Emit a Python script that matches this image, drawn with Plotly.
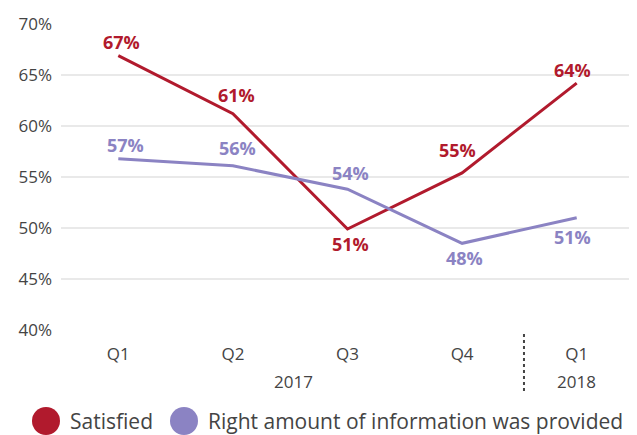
import plotly.graph_objects as go

quarters = ["Q1", "Q2", "Q3", "Q4", "Q1"]
years = ["2017", "2018"]
satisfied = [66.9, 61.2, 49.9, 55.4, 64.2]
satisfied_labels = ["67%", "61%", "51%", "55%", "64%"]
right_info = [56.8, 56.1, 53.8, 48.5, 51.0]
right_info_labels = ["57%", "56%", "54%", "48%", "51%"]
series_names = ["Satisfied", "Right amount of information was provided"]

RED = "#b11a2d"
PURPLE = "#8b83c3"
FONT = "Open Sans"
GREY = "#444444"

# label placement offsets (pixels): (dx, dy) relative to the point, dy positive = up
sat_label_offsets = [(3, 14), (4, 19), (3, -15), (-5, 23), (-4, 13)]
info_label_offsets = [(7, 14), (5, 18), (3, 16), (2, -15), (-4, -19)]

x = list(range(len(quarters)))

PW, PH = 573, 306

fig = go.Figure()
for vals, col, name in [(satisfied, RED, series_names[0]), (right_info, PURPLE, series_names[1])]:
    fig.add_trace(go.Scatter(
        x=x, y=vals, mode="lines", name=name,
        line=dict(color=col, width=3), showlegend=False,
    ))

for vals, labels, offs, col in [(satisfied, satisfied_labels, sat_label_offsets, RED),
                                (right_info, right_info_labels, info_label_offsets, PURPLE)]:
    for xi, v, lbl, (dx, dy) in zip(x, vals, labels, offs):
        fig.add_annotation(x=xi, y=v, xref="x", yref="y", text=lbl, showarrow=False,
                           xshift=dx, yshift=dy, xanchor="center", yanchor="middle",
                           font=dict(family=FONT, size=18, color=col, weight="bold"))

# year labels
fig.add_annotation(x=1.53, y=-51 / PH, xref="x", yref="paper", text=years[0], showarrow=False,
                   yanchor="middle", font=dict(family=FONT, size=17, color=GREY))
fig.add_annotation(x=4, y=-51 / PH, xref="x", yref="paper", text=years[1], showarrow=False,
                   yanchor="middle", font=dict(family=FONT, size=17, color=GREY))
# dotted separator
fig.add_shape(type="line", x0=3.54, x1=3.54, xref="x", y0=-4 / PH, y1=-62 / PH, yref="paper",
              line=dict(color=GREY, width=2, dash="dot"))

# legend (manual)
leg_y = -91 / PH
for cx, col, lbl, tx in [(46, RED, series_names[0], 68), (184, PURPLE, series_names[1], 206)]:
    fig.add_shape(type="circle", xref="paper", yref="paper",
                  x0=(cx - 14 - 61) / PW, x1=(cx + 14 - 61) / PW,
                  y0=leg_y - 14 / PH, y1=leg_y + 14 / PH,
                  fillcolor=col, line=dict(width=0))
    fig.add_annotation(x=(tx - 61) / PW, y=leg_y, xref="paper", yref="paper", text=lbl,
                       showarrow=False, xanchor="left", yanchor="middle",
                       font=dict(family=FONT, size=21, color=GREY))

fig.update_layout(
    width=629, height=427,
    margin=dict(l=53, r=3, t=16, b=105, autoexpand=False),
    paper_bgcolor="white", plot_bgcolor="white",
    font=dict(family=FONT, size=17, color=GREY),
)
fig.update_xaxes(range=[-0.5, 4.5], tickvals=x, ticktext=quarters, showgrid=False,
                 zeroline=False, showline=False, tickfont=dict(size=17, color=GREY),
                 ticklabelstandoff=12)
fig.update_yaxes(range=[40, 70], tickvals=[40, 45, 50, 55, 60, 65, 70],
                 ticktext=["40%", "45%", "50%", "55%", "60%", "65%", "70%"],
                 showgrid=True, gridcolor="#e9e9e9", gridwidth=2, zeroline=False,
                 showline=False, tickfont=dict(size=17, color=GREY), ticklabelstandoff=8)

fig.write_html("out.html")
